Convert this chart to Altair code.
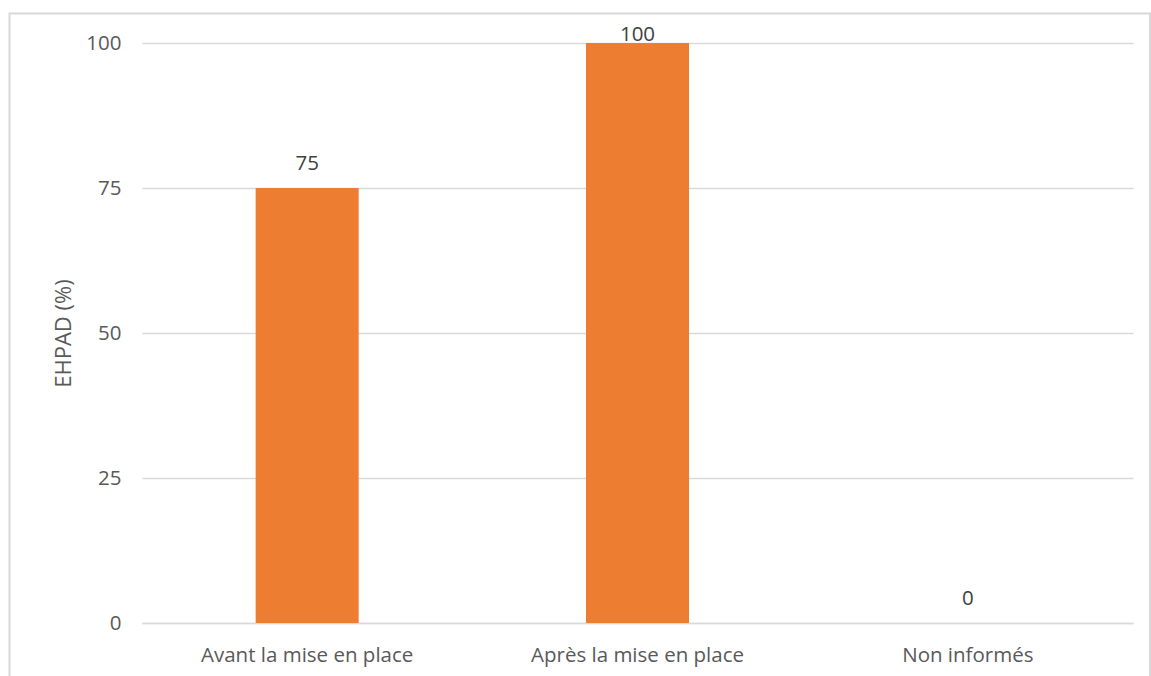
import altair as alt
import pandas as pd

categories = ["Avant la mise en place", "Après la mise en place", "Non informés"]
values = [75, 100, 0]
y_ticks = [0, 25, 50, 75, 100]

df = pd.DataFrame({"cat": categories, "value": values})

FONT = "Open Sans"
TXT = "#595959"
GRID = "#d9d9d9"
FS = 20.5

x_enc = alt.X("cat:N", sort=categories, title=None,
              scale=alt.Scale(paddingInner=0, paddingOuter=0),
              axis=alt.Axis(labelAngle=0, labelFont=FONT, labelFontSize=FS, labelColor=TXT,
                            labelPadding=38, labelBaseline="alphabetic", labelLimit=0,
                            ticks=False, tickSize=0,
                            domainColor=GRID, domainWidth=1.5, grid=False))

bars = alt.Chart(df).mark_bar(size=103, color="#ED7D31").encode(
    x=x_enc,
    y=alt.Y("value:Q", title="EHPAD (%)",
            scale=alt.Scale(domain=[0, 100], nice=False),
            axis=alt.Axis(values=y_ticks, labelFont=FONT, labelFontSize=FS, labelColor=TXT,
                          labelPadding=21, ticks=False, tickSize=0, domain=False,
                          gridColor=GRID, gridWidth=1.5,
                          titleFont=FONT, titleFontSize=22, titleColor=TXT, titleFontWeight="normal",
                          titleAngle=270, titleX=-79, titleY=290, titleAlign="center",
                          titleBaseline="middle")),
)

labels = alt.Chart(df).transform_calculate(
    label_y="min(datum.value, 97.2)"
).mark_text(font=FONT, fontSize=FS, color="#404040", baseline="alphabetic", dy=-18).encode(
    x=alt.X("cat:N", sort=categories),
    y=alt.Y("label_y:Q"),
    text=alt.Text("value:Q"),
)

border = alt.Chart(df).mark_rect(fill=None, stroke=GRID, strokeWidth=1.5).encode(
    x=alt.value(-132.5), x2=alt.value(1008), y=alt.value(-29.5), y2=alt.value(700)
)

chart = alt.layer(border, bars, labels).properties(
    width=991, height=580,
    autosize=alt.AutoSizeParams(type="none"),
    padding={"left": 142, "top": 43, "right": 18, "bottom": 53},
).configure(background="white", view=alt.ViewConfig(stroke=None))

chart.save("out.html", embed_options={"renderer": "svg", "actions": False})
